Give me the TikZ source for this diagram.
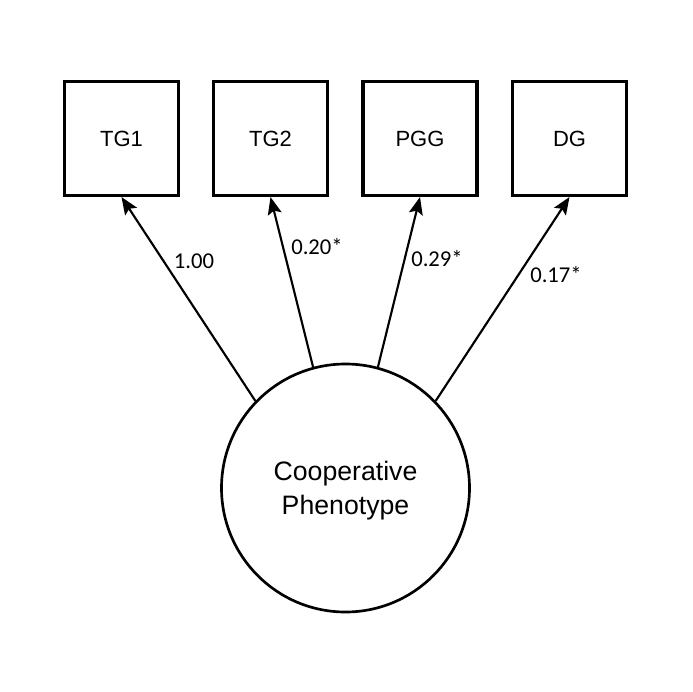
\documentclass[tikz,border=0pt]{standalone}
\usepackage{fontspec}
\setmainfont{Liberation Sans}
\newfontfamily\calibri{Carlito}
\usetikzlibrary{arrows.meta}

\begin{document}
\begin{tikzpicture}[x=0.75pt,y=-0.75pt,
  obs/.style={draw,line width=2.3pt,minimum size=85.5pt,inner sep=0pt,font=\fontsize{16.5}{19}\selectfont},
  latent/.style={draw,circle,line width=2pt,minimum size=186pt,inner sep=0pt,align=center,text depth=0pt,font=\fontsize{20}{25.5}\selectfont},
  loading/.style={line width=1.6pt,-{Stealth[length=13pt,width=10.5pt,inset=2.5pt]}},
  wt/.style={font=\calibri\fontsize{17}{19}\selectfont}]
  \useasboundingbox (0,0) rectangle (692,692);
  % observed measures
  \node[obs] (tg1) at (121.5,138.5) {TG1};
  \node[obs] (tg2) at (270.5,138.5) {TG2};
  \node[obs] (pgg) at (420,138.5) {PGG};
  \node[obs] (dg) at (569.5,138.5) {DG};
  % latent factor
  \node[latent] (coop) at (345.5,488) {Cooperative\\Phenotype};
  \draw[loading] (coop.136) -- (tg1.south);
  \draw[loading] (coop.105) -- (tg2.south);
  \draw[loading] (coop.75) -- (pgg.south);
  \draw[loading] (coop.44) -- (dg.south);
  % loadings
  \node[wt] (w1) at (194,261) {1.00};
  \node[wt] (w2) at (317,247) {0.20*};
  \node[wt] (w3) at (437,259) {0.29*};
  \node[wt] (w4) at (556,275) {0.17*};
\end{tikzpicture}
\end{document}
